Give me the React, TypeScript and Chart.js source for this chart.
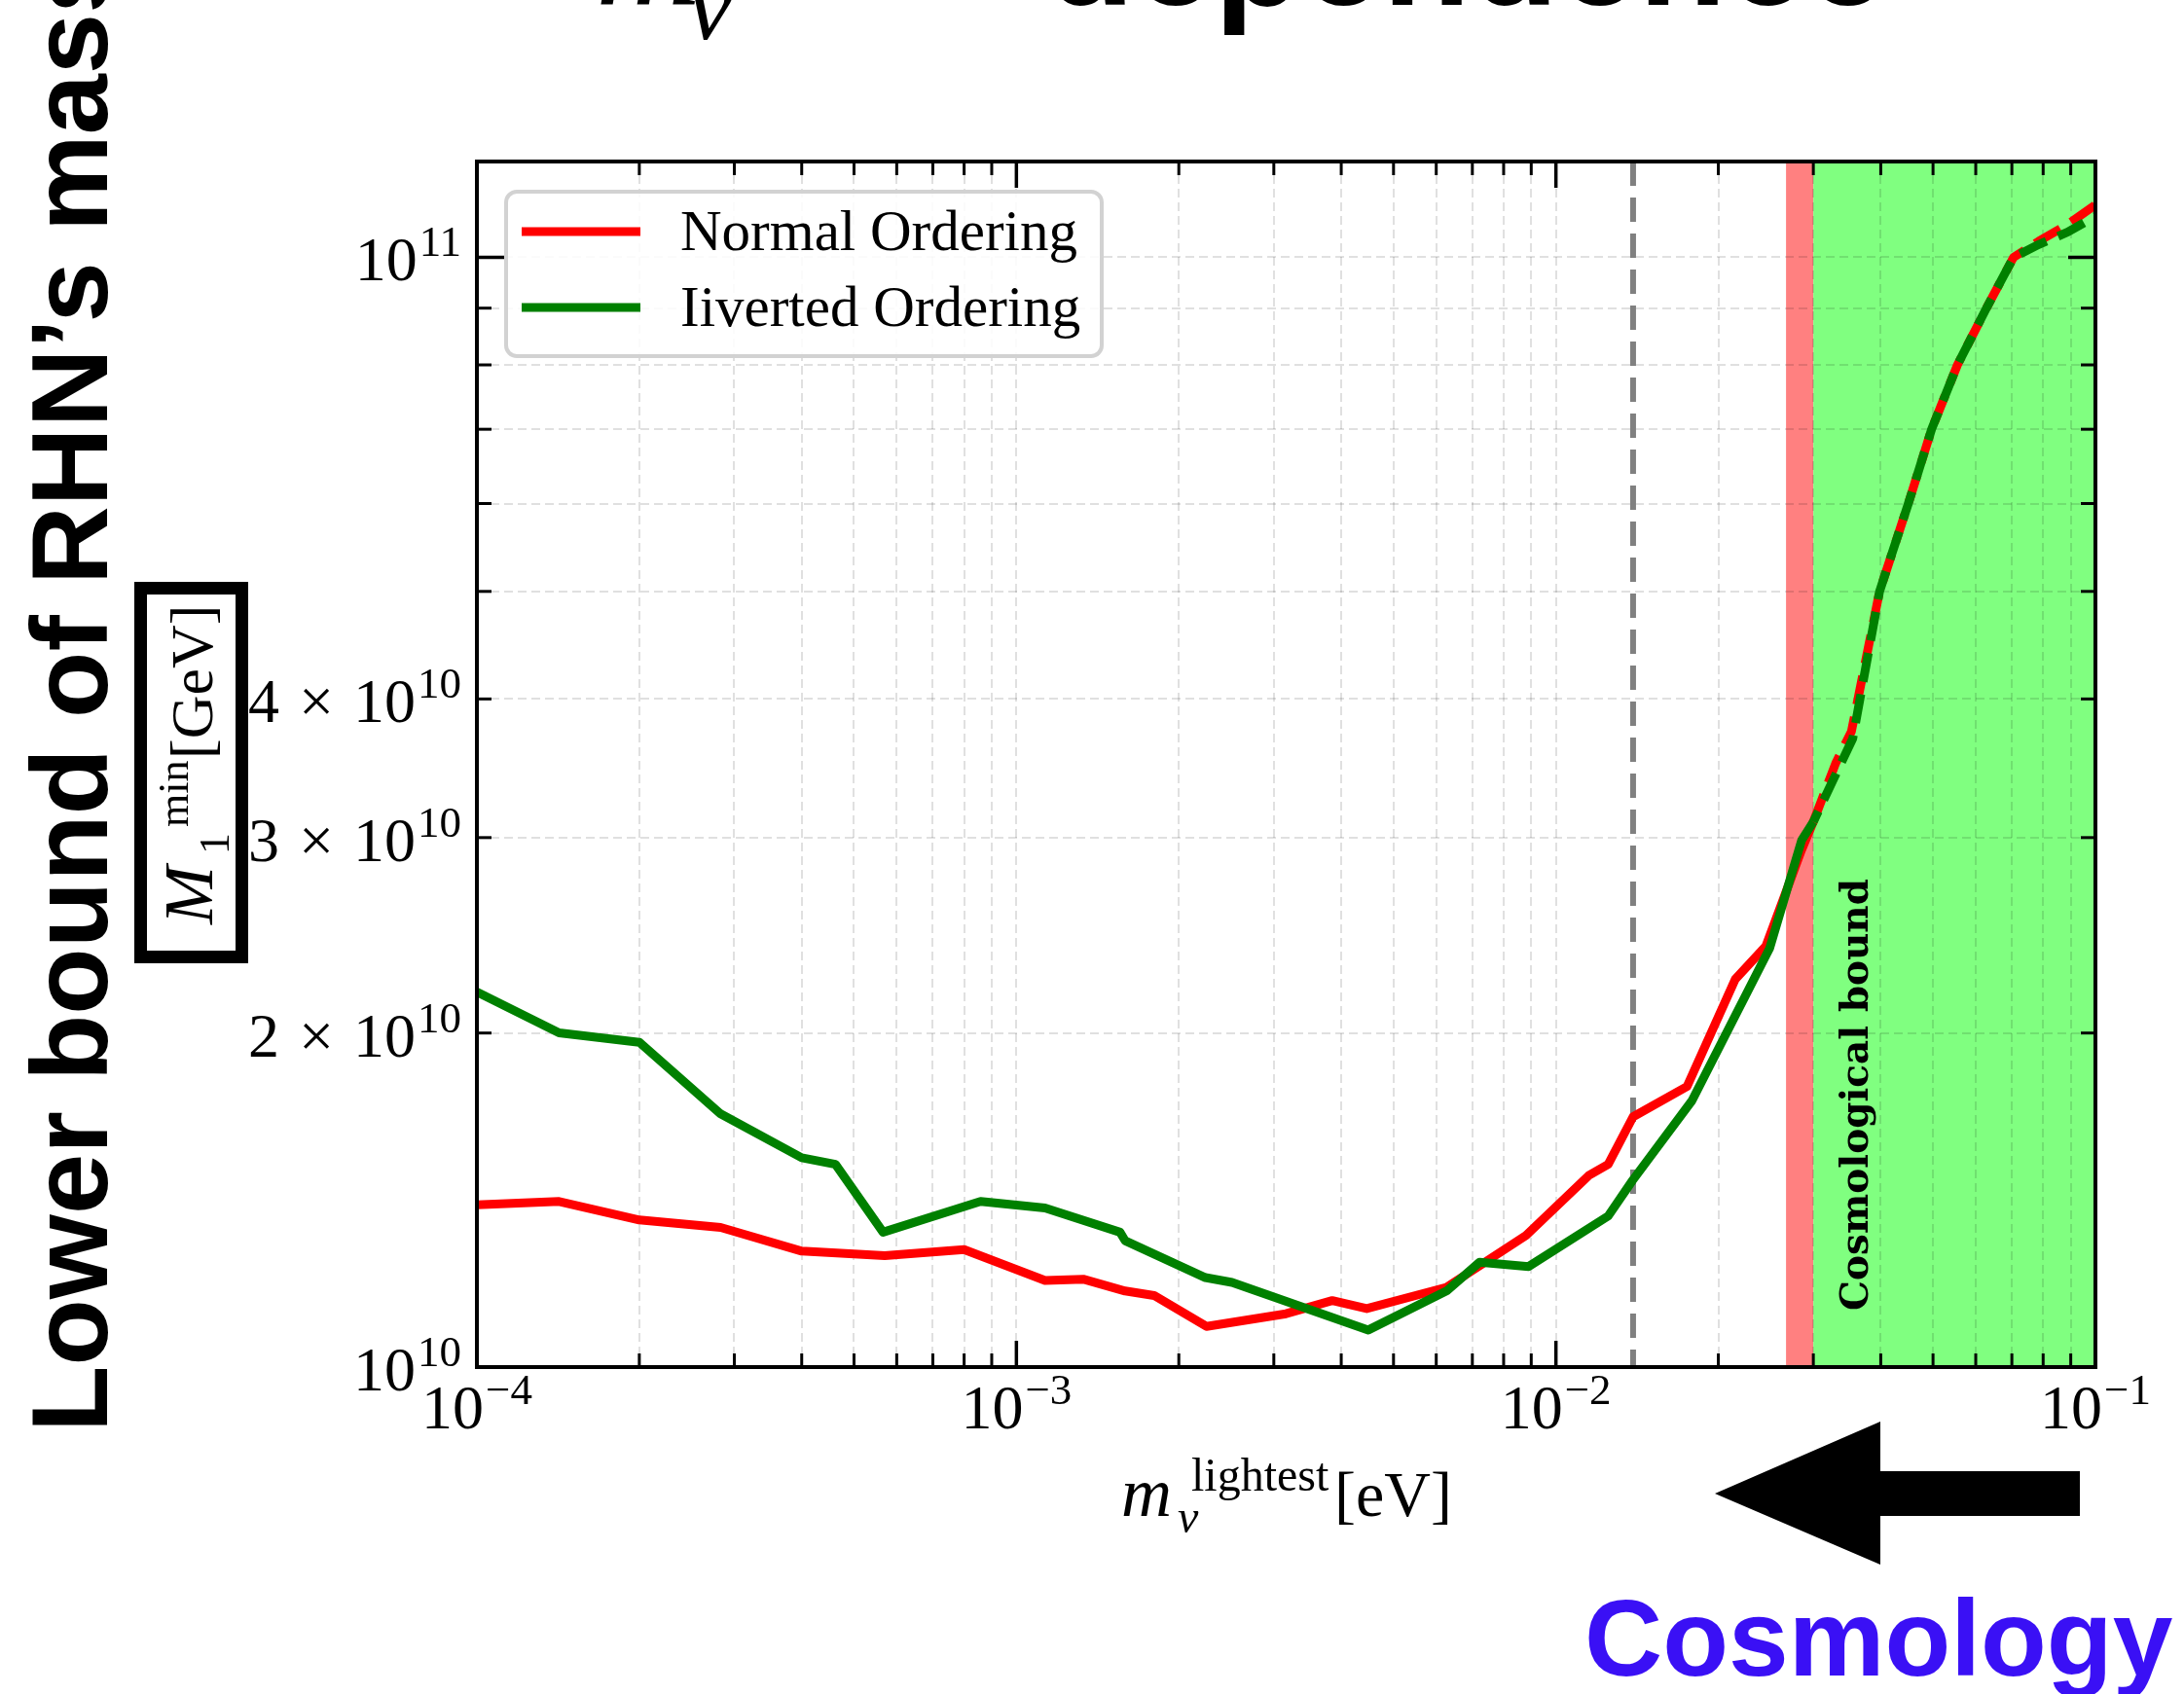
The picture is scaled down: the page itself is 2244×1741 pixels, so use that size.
import { useEffect, useRef } from 'react';
import { Chart, registerables } from 'chart.js';

Chart.register(...registerables);

const WIDTH = 2244;
const HEIGHT = 1741;

const SERIF = '"Liberation Serif", "Times New Roman", serif';
const SANS = '"Liberation Sans", Arial, sans-serif';
const TEXT_SERIF = '"DejaVu Serif", serif';

// Lightest neutrino mass [eV] and the lower bound on M1 [GeV], normal ordering
const noMass = [
  1.0e-4, 1.42e-4, 2.0e-4, 2.83e-4, 4.0e-4, 5.7e-4, 8.0e-4, 1.13e-3, 1.33e-3, 1.59e-3,
  1.8e-3, 2.25e-3, 3.16e-3, 3.85e-3, 4.46e-3, 6.27e-3, 8.8e-3, 1.15e-2, 1.25e-2, 1.39e-2,
  1.75e-2, 2.15e-2, 2.45e-2, 2.85e-2, 3.0e-2, 3.3e-2, 3.53e-2, 3.98e-2, 4.5e-2, 4.97e-2,
  5.55e-2, 6.28e-2, 7.05e-2, 7.85e-2, 8.89e-2, 1.0e-1,
];
const noBound = [
  1.40e10, 1.41e10, 1.357e10, 1.336e10, 1.272e10, 1.26e10, 1.276e10, 1.197e10, 1.20e10, 1.171e10,
  1.16e10, 1.088e10, 1.117e10, 1.148e10, 1.129e10, 1.18e10, 1.314e10, 1.488e10, 1.523e10, 1.681e10,
  1.79e10, 2.236e10, 2.395e10, 2.92e10, 3.10e10, 3.50e10, 3.74e10, 5.0e10, 6.0e10, 7.0e10,
  8.0e10, 9.0e10, 1.0e11, 1.034e11, 1.071e11, 1.115e11,
];

// Same quantities for inverted ordering
const ioMass = [
  1.0e-4, 1.42e-4, 2.0e-4, 2.83e-4, 4.0e-4, 4.62e-4, 5.66e-4, 8.58e-4, 1.13e-3, 1.556e-3,
  1.59e-3, 2.24e-3, 2.51e-3, 4.49e-3, 6.27e-3, 7.22e-3, 8.9e-3, 1.25e-2, 1.387e-2, 1.787e-2,
  2.49e-2, 2.855e-2, 3.0e-2, 3.55e-2, 3.98e-2, 4.5e-2, 4.97e-2, 5.55e-2, 6.28e-2, 7.05e-2,
  7.85e-2, 8.89e-2, 1.0e-1,
];
const ioBound = [
  2.178e10, 2.001e10, 1.962e10, 1.691e10, 1.544e10, 1.523e10, 1.323e10, 1.41e10, 1.391e10, 1.323e10,
  1.30e10, 1.204e10, 1.192e10, 1.080e10, 1.171e10, 1.243e10, 1.232e10, 1.368e10, 1.473e10, 1.738e10,
  2.385e10, 2.985e10, 3.10e10, 3.685e10, 5.0e10, 6.0e10, 7.0e10, 8.0e10, 9.0e10, 1.0e11,
  1.027e11, 1.054e11, 1.089e11,
];

const seriesLabels = ['Normal Ordering', 'Iiverted Ordering'];
const seriesColors = ['#ff0000', '#008000'];

// Axis ranges
const xRange = [1e-4, 1e-1];
const yRange = [1e10, 1.22e11];

// Tick labels
const xLabelValues = [1e-4, 1e-3, 1e-2, 1e-1];
const xLabelExponents = ['\u22124', '\u22123', '\u22122', '\u22121'];
const yLabelValues = [1e10, 2e10, 3e10, 4e10, 1e11];
const yLabelMantissas = ['', '2', '3', '4', ''];
const yLabelExponents = ['10', '10', '10', '10', '11'];

// Shaded regions and reference line [eV]
const cosmoEdge = [0.0267, 0.03];
const cosmoExcluded = [0.03, 0.1];
const referenceMass = 0.0139;
const dashedFrom = 0.03;

const decadeGrid = (lo: number, hi: number) => {
  const out: { value: number; major: boolean }[] = [];
  for (let e = Math.floor(Math.log10(lo)); e <= Math.ceil(Math.log10(hi)); e++) {
    for (let k = 1; k <= 9; k++) {
      const v = k * Math.pow(10, e);
      if (v >= lo * (1 - 1e-9) && v <= hi * (1 + 1e-9)) out.push({ value: v, major: k === 1 });
    }
  }
  return out;
};

const xGrid = decadeGrid(xRange[0], xRange[1]);
const yGrid = decadeGrid(yRange[0], yRange[1]);

const line = (ctx: CanvasRenderingContext2D, x1: number, y1: number, x2: number, y2: number) => {
  ctx.beginPath();
  ctx.moveTo(x1, y1);
  ctx.lineTo(x2, y2);
  ctx.stroke();
};

// "mantissa × base^exp" with a raised exponent
const drawPower = (
  ctx: CanvasRenderingContext2D,
  mant: string,
  base: string,
  exp: string,
  x: number,
  baseline: number,
  align: 'center' | 'right',
) => {
  const big = 64;
  const small = 45;
  const gap = 20;
  ctx.font = `${big}px ${SERIF}`;
  const wMant = mant ? ctx.measureText(mant).width : 0;
  const wTimes = mant ? ctx.measureText('\u00d7').width : 0;
  const wBase = ctx.measureText(base).width;
  ctx.font = `${small}px ${SERIF}`;
  const wExp = ctx.measureText(exp).width;
  const total = (mant ? wMant + gap + wTimes + gap : 0) + wBase + 2 + wExp;
  let cx = align === 'center' ? x - total / 2 : x - total;
  ctx.font = `${big}px ${SERIF}`;
  if (mant) {
    ctx.fillText(mant, cx, baseline);
    cx += wMant + gap;
    ctx.fillText('\u00d7', cx, baseline);
    cx += wTimes + gap;
  }
  ctx.fillText(base, cx, baseline);
  cx += wBase + 2;
  ctx.font = `${small}px ${SERIF}`;
  ctx.fillText(exp, cx, baseline - 25);
};

const decorations = {
  id: 'decorations',
  beforeDraw(chart: any) {
    const { ctx, chartArea: a } = chart;
    const xs = chart.scales.x;
    ctx.save();
    const e0 = xs.getPixelForValue(cosmoEdge[0]);
    const e1 = xs.getPixelForValue(cosmoEdge[1]);
    ctx.fillStyle = '#ff8080';
    ctx.fillRect(e0, a.top, e1 - e0, a.bottom - a.top);
    const g0 = xs.getPixelForValue(cosmoExcluded[0]);
    const g1 = xs.getPixelForValue(cosmoExcluded[1]);
    ctx.fillStyle = '#80ff80';
    ctx.fillRect(g0, a.top, g1 - g0, a.bottom - a.top);
    ctx.restore();
  },
  beforeDatasetsDraw(chart: any) {
    const { ctx, chartArea: a } = chart;
    const px = chart.scales.x.getPixelForValue(referenceMass);
    ctx.save();
    ctx.strokeStyle = '#808080';
    ctx.lineWidth = 6;
    ctx.setLineDash([25, 12]);
    line(ctx, px, a.top, px, a.bottom);
    ctx.restore();
  },
  afterDraw(chart: any) {
    const { ctx, chartArea: a } = chart;
    const xs = chart.scales.x;
    const ys = chart.scales.y;
    ctx.save();
    ctx.textAlign = 'left';
    ctx.textBaseline = 'alphabetic';

    // label inside the excluded band
    ctx.save();
    const bandMid = xs.getPixelForValue(cosmoExcluded[0]) + 56;
    ctx.translate(bandMid, 1125);
    ctx.rotate(-Math.PI / 2);
    ctx.fillStyle = '#000';
    ctx.font = `bold 39px ${TEXT_SERIF}`;
    ctx.textAlign = 'center';
    ctx.fillText('Cosmological bound', 0, 0);
    ctx.restore();

    // ticks pointing inwards on all four sides
    ctx.strokeStyle = '#000';
    ctx.lineCap = 'butt';
    for (const t of xGrid) {
      const px = xs.getPixelForValue(t.value);
      const len = t.major ? 27 : 14;
      ctx.lineWidth = t.major ? 3.5 : 3;
      line(ctx, px, a.bottom, px, a.bottom - len);
      line(ctx, px, a.top, px, a.top + len);
    }
    for (const t of yGrid) {
      const py = ys.getPixelForValue(t.value);
      const len = t.major ? 28 : 15;
      ctx.lineWidth = t.major ? 3.5 : 3;
      line(ctx, a.left, py, a.left + len, py);
      line(ctx, a.right, py, a.right - len, py);
    }
    ctx.lineWidth = 4;
    ctx.strokeRect(a.left, a.top, a.right - a.left, a.bottom - a.top);

    // tick labels
    ctx.fillStyle = '#000';
    xLabelValues.forEach((v, i) => {
      drawPower(ctx, '', '10', xLabelExponents[i], xs.getPixelForValue(v), a.bottom + 63, 'center');
    });
    yLabelValues.forEach((v, i) => {
      drawPower(ctx, yLabelMantissas[i], '10', yLabelExponents[i], a.left - 16, ys.getPixelForValue(v) + 24, 'right');
    });

    // legend
    const datasets = chart.data.datasets;
    ctx.save();
    ctx.beginPath();
    ctx.roundRect(520, 197, 612, 169, 11);
    ctx.fillStyle = 'rgba(255,255,255,0.85)';
    ctx.fill();
    ctx.lineWidth = 4;
    ctx.strokeStyle = '#d2d2d2';
    ctx.stroke();
    ctx.restore();
    datasets.forEach((ds: any, i: number) => {
      const yMid = 238 + i * 78;
      ctx.strokeStyle = ds.borderColor;
      ctx.lineWidth = 9;
      ctx.setLineDash([]);
      line(ctx, 536, yMid, 658, yMid);
      ctx.fillStyle = '#000';
      ctx.font = `59px ${SERIF}`;
      ctx.fillText(ds.label, 699, yMid + 19);
    });

    // x-axis title
    ctx.fillStyle = '#000';
    ctx.font = `italic 72px ${SERIF}`;
    ctx.fillText('m', 1152, 1558);
    ctx.font = `italic 48px ${SERIF}`;
    ctx.fillText('\u03bd', 1210, 1575);
    ctx.font = `48px ${SERIF}`;
    ctx.fillText('lightest', 1224, 1532);
    ctx.font = `66px ${SERIF}`;
    ctx.fillText('[eV]', 1371, 1558);

    // boxed y-axis quantity
    ctx.lineWidth = 13;
    ctx.strokeStyle = '#000';
    ctx.strokeRect(144.5, 604.5, 104, 379);
    ctx.save();
    ctx.translate(218, 950);
    ctx.rotate(-Math.PI / 2);
    ctx.font = `italic 72px ${SERIF}`;
    ctx.fillText('M', 0, 0);
    ctx.font = `44px ${SERIF}`;
    ctx.fillText('1', 72, 17);
    ctx.fillText('min', 100, -25);
    ctx.font = `62px ${SERIF}`;
    ctx.fillText('[GeV]', 170, 0);
    ctx.restore();

    // large side label
    ctx.save();
    ctx.translate(110, 1472);
    ctx.rotate(-Math.PI / 2);
    ctx.font = `bold 112px ${SANS}`;
    ctx.fillText('Lower bound of RHN\u2019s mass', 0, 0);
    ctx.restore();

    // heading along the top edge
    ctx.font = `italic 150px ${SERIF}`;
    ctx.fillText('m', 612, 4);
    ctx.font = `italic 105px ${SERIF}`;
    ctx.fillText('\u03bd', 706, 40);
    ctx.font = `bold 148px ${SANS}`;
    ctx.fillText('dependence', 1075, 5);

    // arrow pointing towards smaller masses
    ctx.beginPath();
    ctx.moveTo(1762, 1535);
    ctx.lineTo(1932, 1461);
    ctx.lineTo(1932, 1512);
    ctx.lineTo(2137, 1512);
    ctx.lineTo(2137, 1558);
    ctx.lineTo(1932, 1558);
    ctx.lineTo(1932, 1608);
    ctx.closePath();
    ctx.fillStyle = '#000';
    ctx.fill();

    ctx.fillStyle = '#3a10f5';
    ctx.font = `bold 111px ${SANS}`;
    ctx.fillText('Cosmology', 1628, 1722);

    ctx.restore();
  },
};

const isDashed = (c: any) => c.p0.parsed.x >= dashedFrom * (1 - 1e-6);
const dashAfter = (c: any) => (isDashed(c) ? [30, 13] : undefined);

export default function App() {
  const canvasRef = useRef<HTMLCanvasElement>(null);

  useEffect(() => {
    const canvas = canvasRef.current;
    if (!canvas) return;
    const chart = new Chart(canvas, {
      type: 'line',
      data: {
        datasets: [
          {
            label: seriesLabels[0],
            data: noMass.map((m, i) => ({ x: m, y: noBound[i] })),
            borderColor: seriesColors[0],
            backgroundColor: seriesColors[0],
            borderWidth: 9,
            pointRadius: 0,
            tension: 0,
            fill: false,
            order: 1,
            clip: 0,
            borderJoinStyle: 'round',
            segment: { borderDash: dashAfter },
          },
          {
            label: seriesLabels[1],
            data: ioMass.map((m, i) => ({ x: m, y: ioBound[i] })),
            borderColor: seriesColors[1],
            backgroundColor: seriesColors[1],
            borderWidth: 9,
            pointRadius: 0,
            tension: 0,
            fill: false,
            order: 0,
            clip: 0,
            borderJoinStyle: 'round',
            segment: { borderDash: dashAfter, borderDashOffset: (c: any) => (isDashed(c) ? 18 : 0) },
          },
        ],
      },
      options: {
        responsive: false,
        animation: false,
        devicePixelRatio: 1,
        layout: { padding: { left: 490, right: 91, top: 166, bottom: 336 } },
        plugins: { legend: { display: false }, tooltip: { enabled: false } },
        scales: {
          x: {
            type: 'logarithmic',
            min: xRange[0],
            max: xRange[1],
            afterBuildTicks: (s: any) => {
              s.ticks = xGrid.map((t) => ({ value: t.value, major: t.major }));
            },
            ticks: { display: false },
            grid: { color: 'rgba(0,0,0,0.12)', lineWidth: 2, drawTicks: false },
            border: { display: false, dash: [9, 5] },
          },
          y: {
            type: 'logarithmic',
            min: yRange[0],
            max: yRange[1],
            afterBuildTicks: (s: any) => {
              s.ticks = yGrid.map((t) => ({ value: t.value, major: t.major }));
            },
            ticks: { display: false },
            grid: { color: 'rgba(0,0,0,0.12)', lineWidth: 2, drawTicks: false },
            border: { display: false, dash: [9, 5] },
          },
        },
      },
      plugins: [decorations],
    } as any);
    return () => chart.destroy();
  }, []);

  return (
    <div
      style={{
        position: 'fixed',
        left: 0,
        top: 0,
        width: WIDTH,
        height: HEIGHT,
        background: '#ffffff',
        overflow: 'hidden',
      }}
    >
      <canvas ref={canvasRef} width={WIDTH} height={HEIGHT} style={{ display: 'block', width: WIDTH, height: HEIGHT }} />
    </div>
  );
}
